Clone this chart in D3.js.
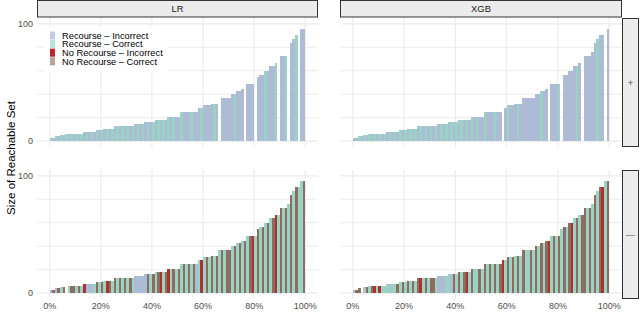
<!DOCTYPE html>
<html><head><meta charset="utf-8">
<script src="https://cdn.jsdelivr.net/npm/d3@7"></script>
<style>body{margin:0;background:#fff}svg{display:block}</style>
</head><body>
<svg id="chart" width="640" height="313"></svg>
<script>
// ---- data ----
const models = ["LR", "XGB"];
const classes = ["+", "\u2014"];
const categories = ["Recourse \u2013 Incorrect", "Recourse \u2013 Correct", "No Recourse \u2013 Incorrect", "No Recourse \u2013 Correct"];
const categoryCodes = ["I", "C", "R", "N"];
const xTicks = [0, 20, 40, 60, 80, 100];
const xTickLabels = ["0%", "20%", "40%", "60%", "80%", "100%"];
const yGrid = [0, 20, 40, 60, 80, 100];
const yTickLabels = ["0", "100"];
const yTickValues = [0, 100];
// size of reachable set at each percentile (0..99)
const reachSize = [3,3,4,4,5,5,6.5,6.5,6.5,6.5,6.5,6.5,6.5,8,8,8,8,8,9.5,9.5,9.5,10.5,10.5,10.5,10.5,
  12.5,12.5,12.5,12.5,12.5,12.5,12.5,12.5,14.5,14.5,14.5,14.5,16,16,16,16,18,18,18,18,18,
  20.5,20.5,20.5,20.5,20.5,24.5,24.5,24.5,24.5,24.5,24.5,24.5,28,28,30.5,30.5,30.5,32,32,32,
  36.5,36.5,36.5,36.5,36.5,40,40,42.5,42.5,44.5,44.5,48.5,48.5,48.5,48.5,54.5,56.5,56.5,60,60,
  64,64,66.5,66.5,72.5,72.5,72.5,76,84,87.5,90.5,90.5,96,96];
// category of the bar at each percentile, per panel ("." = no bar)
const catLRpos  = ("CICICICICI" + "CICICICICI" + "CICICICICI" + "CICICICICI" + "CICICICICI" +
                   "ICIIICIIIC" + "IIIICI.III" + "IICIII.III" + ".IIICIIIC." + "IIC.IIC.II").split("");
const catXGBpos = ("CICICICICI" + "CICICICICI" + "CICICICICI" + "CICICICICI" + "CICICICICI" +
                   "ICIIICII.I" + "CIIICIIIII" + "IIICII.III" + "C.IIIIICI." + "IIIIICII.I").split("");
const catLRneg  = ("ININCN.CNN" + "CNCRIIICNC" + "NCRNCNCNCN" + "CNCIIIIINC" + "NCNRCNRCNC" +
                   "NCNCNCNICR" + "CNCNCNCNCN" + "NCNCNCNCNR" + "CNCNCNCNRC" + "NCNCNCNCCN").split("");
const catXGBneg = ("INN.CNCNRC" + "RCCCICCNCN" + "CNCNCNRCNC" + "NNCIIICCIN" + "CNCNRCNCCN" +
                   "CNCNCNCNRC" + "NCNCNCNCCN" + "CNCNCNRCNC" + "NCNCNRCNCN" + "NCNCNCNRCN").split("");
const panelCats = [[catLRpos, catXGBpos], [catLRneg, catXGBneg]];

// ---- styles ----
const barColor = {I: "#adbbd5", C: "#99d3c4", R: "#b0302c", N: "#8f6c60"};
const keyColor = {I: "#c5cbe4", C: "#b6e4da", R: "#bd2626", N: "#b2a39b"};
const font = "'Liberation Sans', Arial, Helvetica, sans-serif";

const svg = d3.select("#chart");
const colX = [[37, 318], [340, 622]];
const rowY = [[18, 147], [170, 299]];

rowY.forEach((ry, r) => {
  colX.forEach((cx, c) => {
    const x = d3.scaleLinear().domain([-5, 105]).range(cx);
    const y = d3.scaleLinear().domain([-5, 105]).range([ry[1], ry[0]]);
    const g = svg.append("g");
    // grid
    g.selectAll(".hg").data(yGrid).join("line")
      .attr("x1", cx[0]).attr("x2", cx[1])
      .attr("y1", d => y(d)).attr("y2", d => y(d))
      .attr("stroke", "#ebebeb").attr("stroke-width", 1.1);
    g.selectAll(".vg").data(xTicks).join("line")
      .attr("x1", d => x(d)).attr("x2", d => x(d))
      .attr("y1", ry[0]).attr("y2", ry[1])
      .attr("stroke", "#ebebeb").attr("stroke-width", 1.1);
    // bars
    const cats = panelCats[r][c];
    const bars = reachSize.map((v, i) => ({i, v, cat: cats[i]})).filter(d => d.cat !== ".");
    g.selectAll(".bar").data(bars).join("rect")
      .attr("shape-rendering", "crispEdges")
      .attr("x", d => Math.round(x(d.i)))
      .attr("width", d => Math.round(x(d.i + 1)) - Math.round(x(d.i)))
      .attr("y", d => y(d.v))
      .attr("height", d => y(0) - y(d.v))
      .attr("fill", d => barColor[d.cat]);
    // y tick labels (left column only)
    if (c === 0) {
      g.selectAll(".yt").data(yTickValues).join("text")
        .attr("x", 33).attr("y", d => y(d)).attr("dy", "0.35em")
        .attr("text-anchor", "end").attr("font-family", font).attr("font-size", 9)
        .attr("fill", "#4d4d4d").text((d, k) => yTickLabels[k]);
    }
    // x tick labels (bottom row only)
    if (r === 1) {
      g.selectAll(".xt").data(xTicks).join("text")
        .attr("x", d => x(d)).attr("y", 309)
        .attr("text-anchor", "middle").attr("font-family", font).attr("font-size", 9)
        .attr("fill", "#4d4d4d").text((d, k) => xTickLabels[k]);
    }
  });
});

// column strips
colX.forEach((cx, c) => {
  svg.append("rect").attr("x", cx[0] + 0.5).attr("y", 0.5).attr("width", cx[1] - cx[0] - 1).attr("height", 16.5)
    .attr("fill", "#ebebeb").attr("stroke", "#333").attr("stroke-width", 1);
  svg.append("text").attr("x", (cx[0] + cx[1]) / 2).attr("y", 9).attr("dy", "0.35em")
    .attr("text-anchor", "middle").attr("font-family", font).attr("font-size", 9.4)
    .attr("fill", "#1a1a1a").text(models[c]);
});
// row strips
rowY.forEach((ry, r) => {
  svg.append("rect").attr("x", 622.5).attr("y", ry[0] + 0.5).attr("width", 16).attr("height", ry[1] - ry[0] - 1)
    .attr("fill", "#ebebeb").attr("stroke", "#333").attr("stroke-width", 1);
  svg.append("text").attr("x", 630.5).attr("y", (ry[0] + ry[1]) / 2).attr("dy", "0.35em")
    .attr("text-anchor", "middle").attr("font-family", font).attr("font-size", 9.4)
    .attr("fill", "#4d4d4d").text(classes[r]);
});

// y axis title
svg.append("text").attr("transform", "translate(11,158) rotate(-90)")
  .attr("text-anchor", "middle").attr("dy", "0.35em").attr("font-family", font).attr("font-size", 11.5)
  .attr("fill", "#000").text("Size of Reachable Set");

// legend
const lg = svg.append("g");
lg.append("rect").attr("x", 44).attr("y", 27).attr("width", 124).attr("height", 45).attr("fill", "#fff");
categoryCodes.forEach((code, k) => {
  const cy = 35.5 + k * 8.6;
  lg.append("rect").attr("x", 50).attr("y", cy - 4).attr("width", 5).attr("height", 8).attr("fill", keyColor[code]);
  lg.append("text").attr("x", 62).attr("y", cy).attr("dy", "0.35em")
    .attr("font-family", font).attr("font-size", 9.3).attr("fill", "#000").text(categories[k]);
});
</script>
</body></html>
